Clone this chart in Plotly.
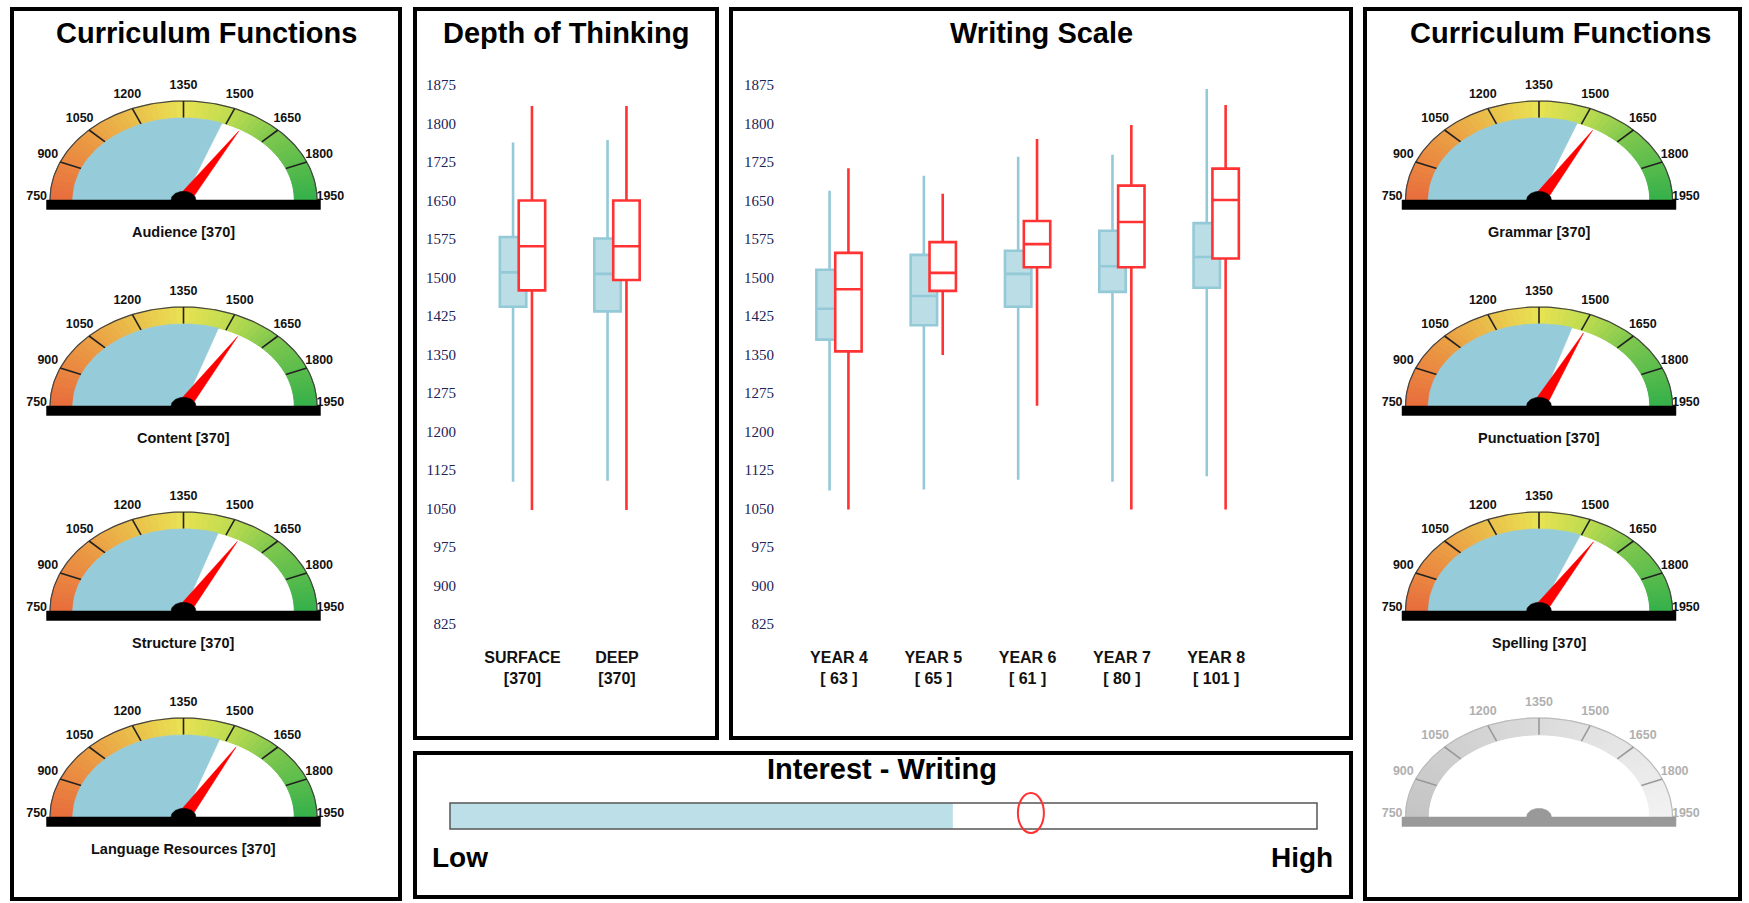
import numpy as np
import plotly.graph_objects as go

W, H = 1749, 903

# ---------------- data ----------------
gauge_left_names = ["Audience", "Content", "Structure", "Language Resources"]
gauge_left_counts = [370, 370, 370, 370]
gauge_left_fill = [1486, 1473, 1472, 1477]
gauge_left_needle = [1555, 1550, 1549, 1544]

gauge_right_names = ["Grammar", "Punctuation", "Spelling"]
gauge_right_counts = [370, 370, 370]
gauge_right_fill = [1485, 1466, 1497]
gauge_right_needle = [1548, 1512, 1552]

gauge_ticks = [750, 900, 1050, 1200, 1350, 1500, 1650, 1800, 1950]
GAUGE_MIN, GAUGE_MAX = 750, 1950

depth_categories = ["SURFACE", "DEEP"]
depth_counts = [370, 370]
depth_blue_min = [1102, 1104]
depth_blue_q1 = [1443, 1434]
depth_blue_med = [1510, 1507]
depth_blue_q3 = [1579, 1576]
depth_blue_max = [1763, 1768]
depth_red_min = [1047, 1047]
depth_red_q1 = [1475, 1495]
depth_red_med = [1561, 1561]
depth_red_q3 = [1650, 1650]
depth_red_max = [1834, 1834]

year_categories = ["YEAR 4", "YEAR 5", "YEAR 6", "YEAR 7", "YEAR 8"]
year_counts = [63, 65, 61, 80, 101]
year_blue_min = [1085, 1087, 1106, 1102, 1113]
year_blue_q1 = [1379, 1407, 1443, 1472, 1480]
year_blue_med = [1439, 1464, 1507, 1522, 1540]
year_blue_q3 = [1515, 1544, 1552, 1591, 1606]
year_blue_max = [1669, 1698, 1735, 1739, 1867]
year_red_min = [1048, 1349, 1250, 1048, 1048]
year_red_q1 = [1356, 1474, 1520, 1520, 1537]
year_red_med = [1477, 1509, 1565, 1608, 1651]
year_red_q3 = [1548, 1569, 1610, 1679, 1712]
year_red_max = [1713, 1663, 1770, 1797, 1836]

scale_ticks = list(range(825, 1876, 75))

interest_level = 58     # 0 (Low) .. 100 (High)
interest_marker = 67

# ---------------- style ----------------
SANS = "Liberation Sans, Arial, Helvetica, sans-serif"
SERIF = "Liberation Serif, Times New Roman, serif"
BLUE_FILL = "#96CBD9"
BOX_BLUE_LINE = "#94C9D7"
BOX_BLUE_FILL = "#BADDE6"
RED = "#FF3333"
RX, RY = 133.5, 99.0
R_IN = 0.83

band_stops = [(750, (232, 108, 60)), (1050, (235, 160, 68)), (1350, (233, 226, 82)),
              (1500, (190, 220, 80)), (1650, (128, 200, 78)), (1950, (52, 176, 74))]
gray_stops = [(750, (196, 196, 196)), (1950, (242, 242, 242))]


def px(x):
    return x / W


def py(y):
    return 1 - y / H


def ang(v):
    return np.pi * (1 - (v - GAUGE_MIN) / (GAUGE_MAX - GAUGE_MIN))


def interp_color(v, stops):
    vs = [s[0] for s in stops]
    c = [np.interp(v, vs, [s[1][k] for s in stops]) for k in range(3)]
    return "rgb(%d,%d,%d)" % tuple(int(round(t)) for t in c)


fig = go.Figure()
layout_axes = {}
shapes = []
annotations = []


def ax_names(k):
    return ("x" if k == 1 else f"x{k}"), ("y" if k == 1 else f"y{k}")


def add_gauge(k, cx, cy, fill_val=None, needle_val=None, label=None, gray=False):
    xa, ya = ax_names(k)
    layout_axes["xaxis" if k == 1 else f"xaxis{k}"] = dict(
        domain=[px(cx - 1.3 * RX), px(cx + 1.3 * RX)], range=[-1.3, 1.3],
        visible=False, fixedrange=True, anchor=ya)
    layout_axes["yaxis" if k == 1 else f"yaxis{k}"] = dict(
        domain=[py(cy + 0.15 * RY), py(cy - 1.25 * RY)], range=[-0.15, 1.25],
        visible=False, fixedrange=True, anchor=xa)
    stops = gray_stops if gray else band_stops
    seg_vals = np.linspace(GAUGE_MIN, GAUGE_MAX, 61)
    for v0, v1 in zip(seg_vals[:-1], seg_vals[1:]):
        t = np.linspace(ang(v0), ang(v1), 4)
        xs = list(np.cos(t)) + list(R_IN * np.cos(t[::-1])) + [np.cos(t[0])]
        ys = list(np.sin(t)) + list(R_IN * np.sin(t[::-1])) + [np.sin(t[0])]
        col = interp_color((v0 + v1) / 2, stops)
        fig.add_trace(go.Scatter(x=xs, y=ys, fill="toself", fillcolor=col, mode="lines",
                                 line=dict(color=col, width=1), xaxis=xa, yaxis=ya,
                                 hoverinfo="skip"))
    t = np.linspace(np.pi, 0, 120)
    fig.add_trace(go.Scatter(x=np.cos(t), y=np.sin(t), mode="lines",
                             line=dict(color="#bbbbbb" if gray else "#444444", width=1.2),
                             xaxis=xa, yaxis=ya, hoverinfo="skip"))
    tx, ty = [], []
    for v in gauge_ticks[1:-1]:
        a = ang(v)
        tx += [R_IN * np.cos(a), np.cos(a), None]
        ty += [R_IN * np.sin(a), np.sin(a), None]
    fig.add_trace(go.Scatter(x=tx, y=ty, mode="lines",
                             line=dict(color="#9a9a9a" if gray else "#222222", width=1.6),
                             xaxis=xa, yaxis=ya, hoverinfo="skip"))
    if fill_val is not None:
        t = np.linspace(np.pi, ang(fill_val), 60)
        xs = [0] + list(R_IN * np.cos(t)) + [0]
        ys = [0] + list(R_IN * np.sin(t)) + [0]
        fig.add_trace(go.Scatter(x=xs, y=ys, fill="toself", fillcolor=BLUE_FILL, mode="lines",
                                 line=dict(color=BLUE_FILL, width=0.5), xaxis=xa, yaxis=ya,
                                 hoverinfo="skip"))
    if needle_val is not None:
        a = ang(needle_val)
        sx, sy = -RY * np.sin(a), RX * np.cos(a)
        n = np.hypot(sx, sy)
        hw = 6.5
        bx, by = hw * sx / n / RX, hw * sy / n / RY
        tip = 0.81
        xs = [bx, tip * np.cos(a), -bx, bx]
        ys = [by, tip * np.sin(a), -by, by]
        fig.add_trace(go.Scatter(x=xs, y=ys, fill="toself", fillcolor="#FF0000", mode="lines",
                                 line=dict(color="#FF0000", width=0.5), xaxis=xa, yaxis=ya,
                                 hoverinfo="skip"))
    # hub
    t = np.linspace(0, np.pi, 40)
    hub_col = "#999999" if gray else "#000000"
    fig.add_trace(go.Scatter(x=list(0.093 * np.cos(t)), y=list(0.088 * np.sin(t)), fill="toself",
                             fillcolor=hub_col, mode="lines", line=dict(color=hub_col, width=0.5),
                             xaxis=xa, yaxis=ya, hoverinfo="skip"))
    # base bar
    fig.add_trace(go.Scatter(x=[-1.026, 1.026, 1.026, -1.026, -1.026], y=[0, 0, -0.095, -0.095, 0],
                             fill="toself", fillcolor=hub_col, mode="lines",
                             line=dict(color=hub_col, width=0.5), xaxis=xa, yaxis=ya,
                             hoverinfo="skip"))
    # labels
    lx = [1.10 * np.cos(ang(v)) for v in gauge_ticks]
    ly = [1.12 * np.sin(ang(v)) + 0.03 for v in gauge_ticks]
    fig.add_trace(go.Scatter(x=lx, y=ly, mode="text", text=[f"<b>{v}</b>" for v in gauge_ticks],
                             textfont=dict(family=SANS, size=12.5,
                                           color="#b0b0b0" if gray else "#111111"),
                             cliponaxis=False, xaxis=xa, yaxis=ya, hoverinfo="skip"))
    if label:
        annotations.append(dict(x=px(cx), y=py(cy + 32), xref="paper", yref="paper",
                                text=f"<b>{label}</b>", showarrow=False,
                                xanchor="center", yanchor="middle",
                                font=dict(family=SANS, size=14.5, color="#111111")))


gauge_cy = [200, 406, 611, 817]
LCX, RCX = 183.5, 1539
k = 1
for i, name in enumerate(gauge_left_names):
    add_gauge(k, LCX, gauge_cy[i], gauge_left_fill[i], gauge_left_needle[i],
              f"{name} [{gauge_left_counts[i]}]")
    k += 1
for i, name in enumerate(gauge_right_names):
    add_gauge(k, RCX, gauge_cy[i], gauge_right_fill[i], gauge_right_needle[i],
              f"{name} [{gauge_right_counts[i]}]")
    k += 1
add_gauge(k, RCX, gauge_cy[3], gray=True)
k += 1


# ---------------- box plots ----------------
def add_boxes(k, cats, labels, bmin, bq1, bmed, bq3, bmax, rmin, rq1, rmed, rq3, rmax,
              dom_px, c0, sp):
    xa, ya = ax_names(k)
    pos = list(range(len(cats)))
    layout_axes[f"xaxis{k}"] = dict(
        domain=[px(dom_px[0]), px(dom_px[1])],
        range=[(dom_px[0] - c0) / sp, (dom_px[1] - c0) / sp],
        tickvals=pos, ticktext=labels,
        tickfont=dict(family=SANS, size=16, color="#111111"),
        showgrid=False, zeroline=False, showline=False, ticks="", anchor=ya,
        ticklabelstandoff=22, fixedrange=True, automargin=False)
    layout_axes[f"yaxis{k}"] = dict(
        domain=[py(624), py(85)], range=[825, 1875], tickvals=scale_ticks,
        tickfont=dict(family=SERIF, size=15, color="#222255"),
        showgrid=False, zeroline=False, showline=False, ticks="", anchor=xa, fixedrange=True,
        automargin=False)
    w = 0.28
    fig.add_trace(go.Box(x=[p - 0.1 for p in pos], lowerfence=bmin, q1=bq1, median=bmed, q3=bq3,
                         upperfence=bmax, width=w, whiskerwidth=0, fillcolor=BOX_BLUE_FILL,
                         line=dict(color=BOX_BLUE_LINE, width=2.6), boxpoints=False,
                         xaxis=xa, yaxis=ya, hoverinfo="skip"))
    fig.add_trace(go.Box(x=[p + 0.1 for p in pos], lowerfence=rmin, q1=rq1, median=rmed, q3=rq3,
                         upperfence=rmax, width=w, whiskerwidth=0, fillcolor="#FFFFFF",
                         line=dict(color=RED, width=2.6), boxpoints=False,
                         xaxis=xa, yaxis=ya, hoverinfo="skip"))


depth_labels = [f"<b>{c}</b><br><b>[{n}]</b>" for c, n in zip(depth_categories, depth_counts)]
year_labels = [f"<b>{c}</b><br><b>[ {n} ]</b>" for c, n in zip(year_categories, year_counts)]

add_boxes(k, depth_categories, depth_labels, depth_blue_min, depth_blue_q1, depth_blue_med,
          depth_blue_q3, depth_blue_max, depth_red_min, depth_red_q1, depth_red_med,
          depth_red_q3, depth_red_max, (457, 705), 522.5, 94.5)
k += 1
add_boxes(k, year_categories, year_labels, year_blue_min, year_blue_q1, year_blue_med,
          year_blue_q3, year_blue_max, year_red_min, year_red_q1, year_red_med,
          year_red_q3, year_red_max, (775, 1340), 839, 94.3)
k += 1

# ---------------- interest slider ----------------
xa, ya = ax_names(k)
layout_axes[f"xaxis{k}"] = dict(domain=[px(450), px(1317)], range=[0, 100], visible=False,
                                fixedrange=True, anchor=ya)
layout_axes[f"yaxis{k}"] = dict(domain=[py(829), py(803)], range=[0, 1], visible=False,
                                fixedrange=True, anchor=xa)
fig.add_trace(go.Bar(x=[interest_level], y=[0.5], base=0, orientation="h", width=1,
                     marker=dict(color="#BDE0E8", line=dict(width=0)), xaxis=xa, yaxis=ya,
                     hoverinfo="skip"))
shapes.append(dict(type="rect", xref=f"{xa} domain", yref=f"{ya} domain", x0=0, x1=1, y0=0, y1=1,
                   line=dict(color="#555555", width=1.5)))
shapes.append(dict(type="circle", xref=xa, yref="paper", xsizemode="pixel", ysizemode="pixel",
                   xanchor=interest_marker, yanchor=py(813), x0=-13, x1=13, y0=-20, y1=20,
                   line=dict(color=RED, width=2)))

# ---------------- panels ----------------
panels = [(12, 9, 400, 899), (415, 9, 717, 738), (731, 9, 1351, 738), (415, 753, 1351, 897),
          (1365, 9, 1740, 899)]
for x0, y0, x1, y1 in panels:
    shapes.append(dict(type="rect", xref="paper", yref="paper", x0=px(x0), x1=px(x1),
                       y0=py(y1), y1=py(y0), line=dict(color="#000000", width=4)))

titles = [("Curriculum Functions", 206, 33), ("Depth of Thinking", 566, 33),
          ("Writing Scale", 1041, 33), ("Curriculum Functions", 1560, 33),
          ("Interest - Writing", 882, 769), ("Low", 460, 857), ("High", 1302, 857)]
for txt, x, y in titles:
    annotations.append(dict(x=px(x), y=py(y), xref="paper", yref="paper", text=f"<b>{txt}</b>",
                            showarrow=False, xanchor="center", yanchor="middle",
                            font=dict(family=SANS, size=29 if txt not in ("Low", "High") else 28,
                                      color="#000000")))

fig.update_layout(
    width=W, height=H, autosize=False,
    margin=dict(l=0, r=0, t=0, b=0, pad=0, autoexpand=False),
    paper_bgcolor="white", plot_bgcolor="rgba(0,0,0,0)", showlegend=False,
    boxmode="overlay", hovermode=False, shapes=shapes, annotations=annotations,
    **layout_axes)

fig.write_html("out.html", config={"displayModeBar": False},
               post_script="document.body.style.margin='0';document.body.style.overflow='hidden';")
